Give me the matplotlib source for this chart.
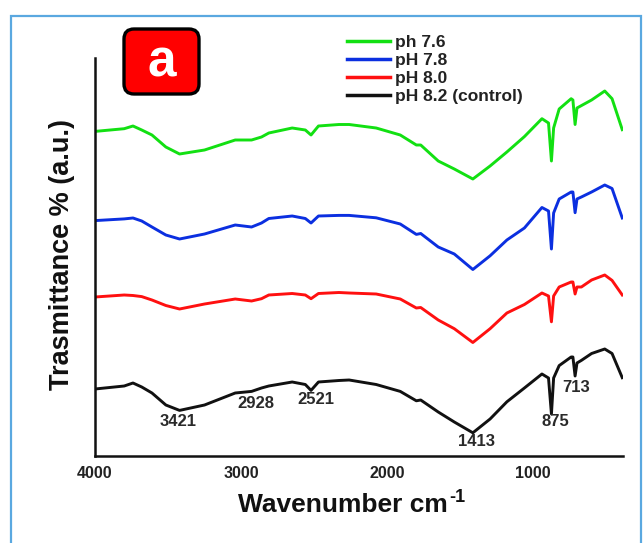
import matplotlib
matplotlib.use("Agg")
import matplotlib.pyplot as plt
from matplotlib.patches import FancyBboxPatch, Rectangle
from matplotlib.transforms import IdentityTransform

plt.rcParams['font.family'] = ['Liberation Sans', 'DejaVu Sans']

# ---------------- data ----------------
wavenumber = [4000, 3800, 3740, 3680, 3610, 3515, 3421, 3250, 3040, 2928, 2860, 2810,
              2650, 2560, 2521, 2470, 2330, 2260, 2075, 1910, 1800, 1770, 1650, 1540,
              1413, 1295, 1180, 1060, 940, 895, 875, 860, 822, 740, 728, 713, 700,
              670, 600, 510, 460, 390]

ph76 = [323.6, 326.3, 329, 325, 320, 308, 301, 305, 315, 315, 318, 322,
        327, 325, 320, 329, 330.5, 330.5, 327, 320, 310, 310, 294, 286,
        276, 289, 303, 318.4, 336.3, 332, 294, 327, 346, 356.3, 355, 330.5, 347,
        349.4, 355, 364, 356.3, 325.3]

ph78 = [234.4, 236.1, 237, 234, 228, 220, 216, 221, 230, 228, 232, 236.5,
        239, 236.5, 232, 239, 239.6, 239.6, 237.2, 231, 220.6, 221.5, 208, 201,
        185.5, 199.2, 215, 227, 247.5, 244, 206, 242, 256, 263, 263, 242.3, 256,
        258, 263, 270, 266.5, 237]

ph80 = [158, 160, 159.5, 158.4, 155, 149.5, 146, 151, 156, 154, 156.3, 160,
        161.5, 160, 156.3, 161.5, 162.5, 162, 161, 156, 147, 147.5, 135, 126.3,
        112.5, 126.3, 142, 150.5, 162, 159, 133.2, 159, 168, 173, 173, 161, 168,
        168, 175, 180, 174.6, 160]

ph82 = [66, 69, 72, 68, 62, 50, 44.6, 50, 62, 63.6, 67, 69,
        73, 70.5, 64.6, 73, 74.5, 75, 70.5, 63.6, 54.2, 55, 43, 33,
        22.2, 36, 53.2, 67, 81, 77, 41, 77, 89.4, 98, 98, 79, 92,
        94.6, 101.5, 106, 101.5, 77.3]

series_labels = ["ph 7.6", "pH 7.8", "pH 8.0", "pH 8.2 (control)"]
series_colors = ["#12e012", "#0b2fe0", "#ff1010", "#111111"]

peak_labels = ["3421", "2928", "2521", "1413", "875", "713"]
peak_label_x = [3430, 2900, 2490, 1390, 850, 705]
peak_label_y = [34, 52, 56, 13, 33, 67]

xticks = [4000, 3000, 2000, 1000]
xtick_labels = ["4000", "3000", "2000", "1000"]

# ---------------- figure ----------------
W, H = 643, 543
fig = plt.figure(figsize=(W / 100, H / 100), dpi=100)
fig.patch.set_facecolor("white")

ax = fig.add_axes([95 / W, (H - 456) / H, 528 / W, 398 / H])
for y, lab, col in zip([ph76, ph78, ph80, ph82], series_labels, series_colors):
    ax.plot(wavenumber, y, color=col, lw=2.1, label=lab, solid_joinstyle='round')

ax.set_xlim(4000, 385)
ax.set_ylim(-1, 397)
ax.set_xticks(xticks)
ax.set_xticklabels(xtick_labels, fontsize=11.5, fontweight='bold', color='#222222')
ax.set_yticks([])
ax.tick_params(axis='x', length=0, pad=7)
for s in ['top', 'right']:
    ax.spines[s].set_visible(False)
for s in ['left', 'bottom']:
    ax.spines[s].set_linewidth(1.8)
    ax.spines[s].set_color('#111111')
ax.patch.set_alpha(0)

for t, xv, yv in zip(peak_labels, peak_label_x, peak_label_y):
    ax.text(xv, yv, t, fontsize=12, fontweight='bold', color='#2a2a2a',
            ha='center', va='center')

leg = ax.legend(loc='upper left', bbox_to_anchor=(347 / W, 1 - 35 / H),
                bbox_transform=fig.transFigure, frameon=False,
                prop={'weight': 'bold', 'size': 12.5}, handlelength=2.5,
                handletextpad=0.25, labelspacing=0.17, borderpad=0, borderaxespad=0)
for txt in leg.get_texts():
    txt.set_color('#222222')
for ln in leg.get_lines():
    ln.set_linewidth(2.5)

# x-axis title with a hyphen superscript
xl = fig.text(238 / W, 1 - 505 / H, 'Wavenumber cm', fontsize=19,
              fontweight='bold', ha='left', va='center', color='#111111')
renderer = fig.canvas.get_renderer()
bb = xl.get_window_extent(renderer=renderer)
fig.text((bb.x1 + 1) / W, (bb.y1 - 4) / H, '-1', fontsize=13,
         fontweight='bold', ha='left', va='center', color='#111111')

fig.text(62 / W, 1 - 255 / H, 'Trasmittance % (a.u.)', fontsize=19.5,
         fontweight='bold', ha='center', va='center', rotation=90, color='#111111')

# "a" badge
badge = FancyBboxPatch((124, H - 94), 75, 65,
                       boxstyle="round,pad=0,rounding_size=10",
                       transform=IdentityTransform(), facecolor='#ff0000',
                       edgecolor='black', linewidth=2.4)
fig.patches.append(badge)
fig.text(162 / W, 1 - 63 / H, 'a', fontsize=37, color='white',
         ha='center', va='center', fontweight='bold')

# light blue frame
frame = Rectangle((11, -20), 630, H - 16 + 20, transform=IdentityTransform(),
                  fill=False, edgecolor='#5aa8e0', linewidth=1.6)
fig.patches.append(frame)

fig.savefig("out.png", dpi=100)
